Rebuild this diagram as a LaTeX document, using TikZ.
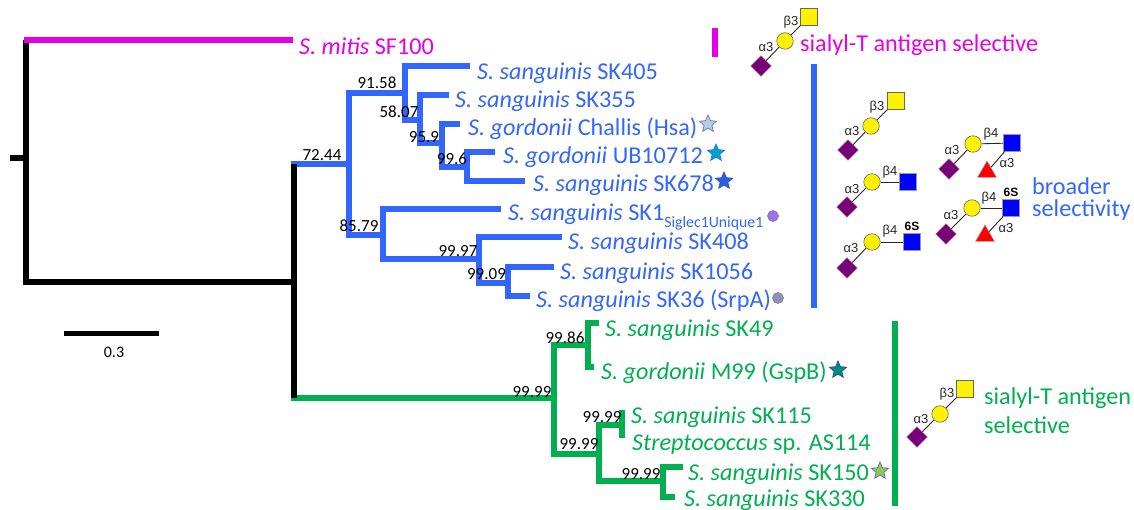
\documentclass[tikz,border=0pt]{standalone}
\usepackage{fontspec}
\setmainfont{Carlito}
\newfontfamily\glyfont{Liberation Sans}
\usetikzlibrary{shapes.geometric}
\definecolor{cblue}{HTML}{3366FF}
\definecolor{cgreen}{HTML}{00B050}
\definecolor{cmag}{HTML}{E600E6}
\definecolor{cpurple}{HTML}{7A0078}
\definecolor{starA}{HTML}{B8D0E0}
\definecolor{starB}{HTML}{00A5C0}
\definecolor{starC}{HTML}{2F5FD8}
\definecolor{starD}{HTML}{009070}
\definecolor{starE}{HTML}{90C850}
\definecolor{dotA}{HTML}{A070F0}
\definecolor{dotB}{HTML}{9090C0}
\tikzset{
 blk/.style={draw=black,line width=6pt},
 bln/.style={draw=cblue,line width=5.5pt},
 gln/.style={draw=cgreen,line width=5.5pt},
 mln/.style={draw=cmag,line width=6pt},
 taxon/.style={anchor=base west,inner sep=0pt,yshift=-1.2pt,font=\fontsize{24.2}{28}\selectfont},
 boot/.style={inner sep=0pt,yshift=-1.2pt,text=black,font=\fontsize{17}{20}\selectfont},
 gal/.style={circle,draw=black!60,fill=yellow,inner sep=0pt,minimum size=16.5pt,line width=.6pt},
 galnac/.style={rectangle,draw=black!60,fill=yellow,inner sep=0pt,minimum size=16.5pt,line width=.6pt},
 glcnac/.style={rectangle,draw=black!40,fill=blue,inner sep=0pt,minimum size=16.5pt,line width=.6pt},
 sia/.style={diamond,draw=black!40,fill=cpurple,inner sep=0pt,minimum size=21pt,line width=.4pt},
 fuc/.style={regular polygon,regular polygon sides=3,draw=black!40,fill=red,inner sep=0pt,minimum size=22pt,line width=.4pt},
 lnk/.style={draw=black!85,line width=.9pt},
 tag/.style={inner sep=0pt,text=black!85,font=\glyfont\fontsize{13}{14}\selectfont},
 tagb/.style={inner sep=0pt,text=black,font=\glyfont\bfseries\fontsize{12}{14}\selectfont},
 mark1/.style={star,star points=5,star point ratio=2.2,inner sep=0pt,minimum size=18pt,line width=.7pt},
 dot/.style={circle,inner sep=0pt,minimum size=11pt,line width=.6pt},
}
\begin{document}
\begin{tikzpicture}[x=1pt,y=-1pt]
\useasboundingbox (0,0) rectangle (1134,510);
% --- tree coordinates
\coordinate (r0) at (10,158); \coordinate (r) at (26,158);
\coordinate (rt) at (26,40); \coordinate (rb) at (26,285);
\coordinate (ms) at (24,40); \coordinate (mtip) at (293,40);
\coordinate (ra) at (26,282); \coordinate (a) at (294,282);
\coordinate (at) at (294,164); \coordinate (ab) at (294,398);
\coordinate (bs) at (291,164); \coordinate (b) at (349,164);
\coordinate (gs) at (291,398); \coordinate (g) at (554,398);
\coordinate (b1) at (405,93); \coordinate (t405) at (470,66);
\coordinate (b2) at (420,120); \coordinate (t355) at (449,95);
\coordinate (b3) at (442,143); \coordinate (tch) at (460,124);
\coordinate (b4) at (467,167); \coordinate (tub) at (495,152); \coordinate (t678) at (525,181);
\coordinate (b5) at (383,235); \coordinate (t1) at (501,209);
\coordinate (b6) at (479,259); \coordinate (t408) at (562,237);
\coordinate (b7) at (508,283); \coordinate (t1056) at (554,267); \coordinate (t36) at (530,296);
\coordinate (g1) at (588,345); \coordinate (t49) at (599,323); \coordinate (t99) at (594,367);
\coordinate (g2) at (599,454); \coordinate (g3) at (622,425);
\coordinate (t115) at (622,410); \coordinate (t114) at (622,438);
\coordinate (g4) at (663,481); \coordinate (t150) at (683,467); \coordinate (t330) at (675,497);
\coordinate (bu) at (349,93); \coordinate (bd) at (349,235);
\coordinate (gu) at (554,345); \coordinate (gd) at (554,454);
\coordinate (sl) at (64,333); \coordinate (sr) at (159,333);
\coordinate (mb1) at (715,28); \coordinate (mb2) at (715,57);
\coordinate (bb1) at (814,64); \coordinate (bb2) at (814,308);
\coordinate (gb1) at (895,321); \coordinate (gb2) at (895,506);
% --- branches
\draw[bln] (bs) -- (b);
\draw[gln] (gs) -- (g);
\draw[bln] (b) -- (bu) -- (b1);
\draw[bln] (b) -- (bd) -- (b5);
\draw[bln] (b1) |- (t405);
\draw[bln] (b1) |- (b2);
\draw[bln] (b2) |- (t355);
\draw[bln] (b2) |- (b3);
\draw[bln] (b3) |- (tch);
\draw[bln] (b3) |- (b4);
\draw[bln] (b4) |- (tub);
\draw[bln] (b4) |- (t678);
\draw[bln] (b5) |- (t1);
\draw[bln] (b5) |- (b6);
\draw[bln] (b6) |- (t408);
\draw[bln] (b6) |- (b7);
\draw[bln] (b7) |- (t1056);
\draw[bln] (b7) |- (t36);
\draw[gln] (g) -- (gu) -- (g1);
\draw[gln] (g) -- (gd) -- (g2);
\draw[gln] (g1) |- (t49);
\draw[gln] (g1) |- (t99);
\draw[gln] (g2) |- (g3);
\draw[gln] (g2) |- (g4);
\draw[gln] (g3) -- (t115);
\draw[gln] (g3) -- (t114);
\draw[gln] (g4) |- (t150);
\draw[gln] (g4) |- (t330);
\draw[blk] (r0) -- (r);
\draw[blk] (rt) -- (rb);
\draw[blk] (ra) -- (a);
\draw[blk] (at) -- (ab);
\draw[mln] (ms) -- (mtip);
\draw[blk,line width=5pt] (sl) -- (sr);
\draw[mln] (mb1) -- (mb2);
\draw[bln,line width=6pt] (bb1) -- (bb2);
\draw[gln,line width=6pt] (gb1) -- (gb2);
% --- taxa
\node[taxon,text=cmag] (lm) at (299,53) {\textit{S. mitis} SF100};
\node[taxon,text=cblue] (l405) at (477,78) {\textit{S. sanguinis} SK405};
\node[taxon,text=cblue] (l355) at (455,106) {\textit{S. sanguinis} SK355};
\node[taxon,text=cblue] (lch) at (468,134) {\textit{S. gordonii} Challis (Hsa)};
\node[taxon,text=cblue] (lub) at (503,162) {\textit{S. gordonii} UB10712};
\node[taxon,text=cblue] (l678) at (533,190) {\textit{S. sanguinis} SK678};
\node[taxon,text=cblue] (l1) at (508,219) {\textit{S. sanguinis} SK1\raisebox{-7pt}{\fontsize{15.8}{18}\selectfont Siglec1Unique1}};
\node[taxon,text=cblue] (l408) at (568,248) {\textit{S. sanguinis} SK408};
\node[taxon,text=cblue] (l1056) at (560,278) {\textit{S. sanguinis} SK1056};
\node[taxon,text=cblue] (l36) at (536,306) {\textit{S. sanguinis} SK36 (SrpA)};
\node[taxon,text=cgreen] (l49) at (605,335) {\textit{S. sanguinis} SK49};
\node[taxon,text=cgreen] (l99) at (601,378) {\textit{S. gordonii} M99 (GspB)};
\node[taxon,text=cgreen] (l115) at (631,422) {\textit{S. sanguinis} SK115};
\node[taxon,text=cgreen] (l114) at (632,449) {\textit{Streptococcus} sp. AS114};
\node[taxon,text=cgreen] (l150) at (688,479) {\textit{S. sanguinis} SK150};
\node[taxon,text=cgreen] (l330) at (684,505) {\textit{S. sanguinis} SK330};
% --- marks
\node[mark1,draw=cblue!50!gray,fill=starA] (s1) at (708,124) {};
\node[mark1,draw=cblue,fill=starB] (s2) at (716,153) {};
\node[mark1,draw=cblue!80!black,fill=starC] (s3) at (724,181) {};
\node[mark1,draw=cblue!70!black,fill=starD] (s4) at (838,370) {};
\node[mark1,draw=cblue!60!gray,fill=starE] (s5) at (880,471) {};
\node[dot,draw=gray,fill=dotA] (d1) at (773,216) {};
\node[dot,draw=gray,fill=dotB] (d2) at (778,298) {};
% --- support values
\node[boot] (v1) at (377,82) {91.58};
\node[boot] (v2) at (399,111) {58.07};
\node[boot] (v3) at (424,136) {95.9};
\node[boot] (v4) at (452,158) {99.6};
\node[boot] (v5) at (322,154) {72.44};
\node[boot] (v6) at (359,225) {85.79};
\node[boot] (v7) at (458,250) {99.97};
\node[boot] (v8) at (486.5,273) {99.09};
\node[boot] (v9) at (565,337) {99.86};
\node[boot] (v10) at (532,391) {99.99};
\node[boot] (v11) at (602,416) {99.99};
\node[boot] (v12) at (579,443) {99.99};
\node[boot] (v13) at (641,473) {99.99};
\node[inner sep=0pt,font=\fontsize{16}{18}\selectfont] (sc) at (114,352) {0.3};
% --- captions
\node[taxon,text=cmag] (c1) at (800,50) {sialyl-T antigen selective};
\node[taxon,text=cblue] (c2a) at (1032,193) {broader};
\node[taxon,text=cblue] (c2b) at (1032,215) {selectivity};
\node[taxon,text=cgreen] (c3a) at (984,403) {sialyl-T antigen};
\node[taxon,text=cgreen] (c3b) at (984,432) {selective};
% --- glycan top
\node[sia] (t1d) at (761,66) {}; \node[gal] (t1c) at (785,41) {}; \node[galnac] (t1s) at (809,17) {};
\draw[lnk] (t1d) -- (t1c); \draw[lnk] (t1c) -- (t1s);
\node[tag] (t1a) at (766,47) {α3}; \node[tag] (t1b) at (791,22) {β3};
% --- glycan A
\node[sia] (ad) at (848,150) {}; \node[gal] (ac) at (871,126) {}; \node[galnac] (as) at (896,101) {};
\draw[lnk] (ad) -- (ac); \draw[lnk] (ac) -- (as);
\node[tag] (aa) at (852,131) {α3}; \node[tag] (ab3) at (877,107) {β3};
% --- glycan B
\node[sia] (bd1) at (847,207) {}; \node[gal] (bc1) at (872,182) {}; \node[glcnac] (bs1) at (908,182) {};
\draw[lnk] (bd1) -- (bc1); \draw[lnk] (bc1) -- (bs1);
\node[tag] (ba) at (852,189) {α3}; \node[tag] (bb4) at (890,172) {β4};
% --- glycan C
\node[sia] (cd) at (847,268) {}; \node[gal] (cc) at (872,242) {}; \node[glcnac] (cs) at (912,242) {};
\draw[lnk] (cd) -- (cc); \draw[lnk] (cc) -- (cs);
\node[tag] (ca) at (851,248) {α3}; \node[tag] (cb) at (890,231) {β4}; \node[tagb] (c6) at (912,226) {6S};
% --- glycan D
\node[sia] (dd) at (949,169) {}; \node[gal] (dc) at (973,144) {}; \node[glcnac] (ds) at (1012,143) {};
\node[fuc] (df) at (987,172) {};
\draw[lnk] (dd) -- (dc); \draw[lnk] (dc) -- (ds); \draw[lnk] (ds) -- (df);
\node[tag] (da) at (952,150) {α3}; \node[tag] (db) at (991,134) {β4}; \node[tag] (da2) at (1007,163) {α3};
% --- glycan E
\node[sia] (ed) at (946,234) {}; \node[gal] (ec) at (972,208) {}; \node[glcnac] (es) at (1011,208) {};
\node[fuc] (ef) at (985,236) {};
\draw[lnk] (ed) -- (ec); \draw[lnk] (ec) -- (es); \draw[lnk] (es) -- (ef);
\node[tag] (ea) at (951,215) {α3}; \node[tag] (eb) at (989,198) {β4}; \node[tagb] (e6) at (1011,192) {6S}; \node[tag] (ea2) at (1006,228) {α3};
% --- glycan green
\node[sia] (fd) at (917,437) {}; \node[gal] (fc) at (940,414) {}; \node[galnac] (fs) at (965,389) {};
\draw[lnk] (fd) -- (fc); \draw[lnk] (fc) -- (fs);
\node[tag] (fa) at (921,419) {α3}; \node[tag] (fb) at (947,394) {β3};
\end{tikzpicture}
\end{document}
